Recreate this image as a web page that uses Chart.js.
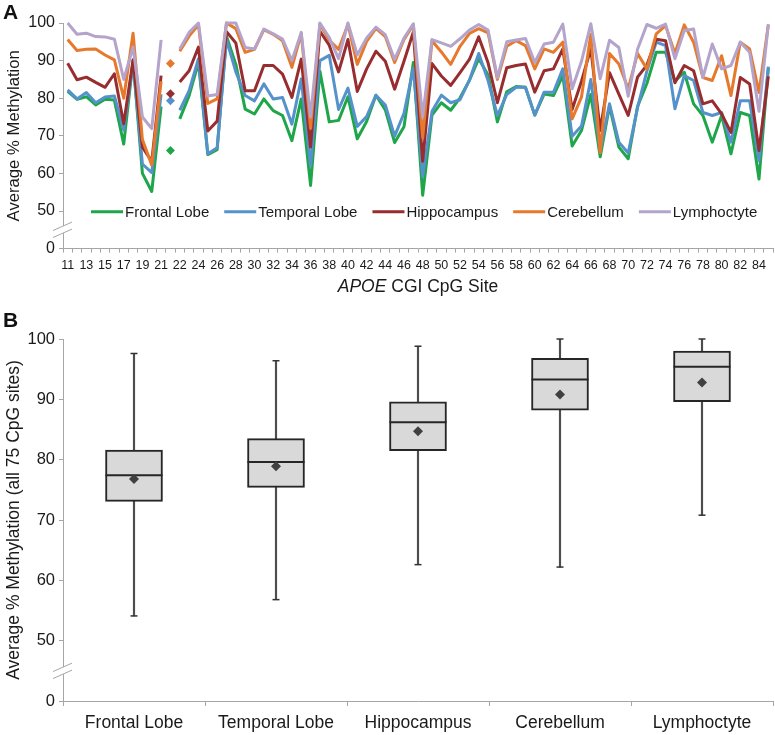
<!DOCTYPE html>
<html>
<head>
<meta charset="utf-8">
<script src="https://cdn.jsdelivr.net/npm/chart.js@4.4.1/dist/chart.umd.min.js"></script>
<style>
  html, body { margin: 0; padding: 0; background: #fff; }
  #wrap { position: relative; width: 775px; height: 735px; }
  canvas { position: absolute; left: 0; }
  #chartA { top: 0; }
  #chartB { top: 300px; }
  .panel { position: absolute; left: 3px; font: bold 21px 'Liberation Sans', Arial, sans-serif; color: #111; line-height: 24px; }
</style>
</head>
<body>
<div id="wrap">
  <canvas id="chartA" width="775" height="300"></canvas>
  <canvas id="chartB" width="775" height="435"></canvas>
  <div class="panel" style="top:0px">A</div>
  <div class="panel" style="top:308px">B</div>
</div>
<script>
// Panel A: CpG sites (the empty column holds the separate diamond markers)
const sites = ['11','12','13','14','15','16','17','18','19','20','21','',
  '22','23','24','25','26','27','28','29','30','31','32','33','34','35','36','37','38','39','40','41',
  '42','43','44','45','46','47','48','49','50','51','52','53','54','55','56','57','58','59','60','61',
  '62','63','64','65','66','67','68','69','70','71','72','73','74','75','76','77','78','79','80','81',
  '82','83','84','85'];
const GAP = 11;

const frontalLobe = [81.8, 79.7, 80.4, 78.2, 79.7, 79.5, 67.8, 90, 60, 55.2, 77.8, 66.1,
  74.5, 80.7, 89.5, 65, 66.3, 96.5, 89, 77.1, 75.8, 79.8,
  76.7, 75.4, 68.7, 79.8, 56.8, 87.2, 73.7, 74.1, 80.4, 69.2,
  73.8, 80.8, 76.9, 68.2, 72.4, 89.5, 54.2, 75.5, 78.8, 76.8,
  80.1, 84.7, 90.5, 86.2, 73.7, 81.7, 83.1, 82.9, 75.5, 81.1,
  80.7, 86, 67.3, 71.4, 81, 64.4, 77.9, 67, 63.9, 77.8,
  83.9, 92.2, 92.2, 84.5, 86.9, 78.5, 75.4, 68.3, 75.4, 65.2,
  76.2, 75.4, 58.5, 88];
const temporalLobe = [82.2, 79.8, 81.5, 78.8, 80.3, 80.6, 71.5, 89.5, 62.5, 60.2, 81, 79.3,
  76.8, 82, 90.5, 65.2, 66.8, 95.6, 87, 80.7, 79.3, 83.8,
  79.8, 80.2, 73.1, 85.1, 62, 90, 91.4, 77, 82.7, 72.5,
  75.1, 80.8, 78.2, 69.9, 76, 88, 59.2, 76.5, 80.8, 78.8,
  79.6, 84.8, 91.9, 84.7, 75.4, 81, 82.9, 82.9, 75.5, 81.6,
  81.6, 87.8, 69.9, 72.6, 85, 66, 78.5, 68.3, 65.4, 77.5,
  87.2, 94.9, 94, 77.2, 86, 84.7, 76.2, 75.4, 76.2, 68.3,
  79.3, 79.3, 63.4, 88.4];
const hippocampus = [89.3, 84.9, 85.6, 84.2, 82.9, 86.5, 73.2, 90.2, 67, 63.2, 86, 81.2,
  84.3, 87.3, 93.6, 71.3, 73.9, 97.7, 94.7, 82, 82, 88.7,
  88.7, 86.4, 80.2, 90.4, 67, 97.8, 94.1, 87, 95.6, 81.8,
  87.8, 92.5, 89.8, 82.4, 89.8, 97.6, 63.2, 89.2, 85.9, 83.4,
  86.8, 90.3, 96.3, 89.4, 78.8, 88.1, 88.7, 89.1, 81.6, 87.3,
  87.8, 93.1, 77, 84.5, 93.2, 71.4, 86.8, 81.1, 75.4, 85.6,
  88.8, 95.7, 95.3, 84.1, 88.7, 87.3, 78.5, 79.3, 75.8, 70.9,
  85.5, 83.8, 66.1, 85.8];
const cerebellum = [95.6, 92.7, 93, 93.1, 91.5, 90.2, 80, 97.3, 69, 62.2, 84.5, 89.2,
  92.5, 96.5, 99.5, 78.6, 79.8, 100, 98.5, 92.2, 93, 98.2,
  97, 95.3, 88.2, 97.2, 72, 99.7, 95.4, 93, 99.6, 89,
  95.1, 98.6, 96.4, 89.5, 95.6, 99.5, 69.5, 95.3, 92.3, 89,
  93.8, 97.2, 98.5, 97.4, 85, 93.8, 95.3, 94, 87.8, 93.1,
  92.2, 94.9, 74.5, 80.3, 97, 65.5, 91.9, 89.1, 82.5, 91.9,
  87.8, 97.1, 99.3, 91.9, 99.5, 94.9, 85.5, 84.7, 91.3, 80.7,
  94.9, 93.1, 81.5, 99.5];
const lymphocyte = [100, 97, 97.3, 96.4, 96.3, 95.7, 85, 93.6, 75, 71.9, 95.5, null,
  93.1, 97.5, 100, 80.6, 81, 100, 100, 93.5, 93.1, 98.4,
  97.1, 95.7, 90, 97.5, 75, 100, 96.1, 90.5, 100, 91.5,
  96, 98.9, 96.9, 90.3, 96, 99.8, 75, 95.6, 94.7, 93.8,
  95.8, 98.1, 99.6, 98.1, 85.4, 95, 95.5, 95.9, 89.5, 94.4,
  94.9, 99.7, 82.5, 89.8, 99.8, 85.2, 95.4, 93.5, 80.5, 93,
  99.6, 98.6, 99.7, 90.5, 98, 98.4, 85.5, 94.4, 87.8, 88.7,
  94.9, 92.2, 76.5, 99.7];

// Panel B: box plot summaries per tissue
const tissues = ['Frontal Lobe', 'Temporal Lobe', 'Hippocampus', 'Cerebellum', 'Lymphoctyte'];
const minimums = [54.1, 56.8, 62.6, 62.2, 70.8];
const q1s = [73.1, 75.4, 81.5, 88.2, 89.6];
const medians = [77.4, 79.6, 86.2, 93.3, 95.4];
const means = [76.8, 78.9, 84.7, 90.8, 92.8];
const q3s = [81.6, 83.5, 89.6, 96.8, 98.0];
const maximums = [97.6, 96.4, 98.8, 100, 100];

// y tick values (40 is shown as "0" below the axis break)
const yTicks = [40, 50, 60, 70, 80, 90, 100];

const FONT = "'Liberation Sans', Arial, sans-serif";
const AXIS = '#a6a6a6';
const TEXT = '#1a1a1a';

// Two slashes across the y axis between 0 and 50
const axisBreak = {
  id: 'axisBreak',
  afterDraw(chart) {
    const { ctx, chartArea, scales } = chart;
    const x = chartArea.left;
    const y = scales.y.getPixelForValue(45);
    ctx.save();
    ctx.fillStyle = '#fff';
    ctx.beginPath();
    ctx.moveTo(x - 4, y - 3.5 + 1.7);
    ctx.lineTo(x + 4, y - 3.5 - 1.7);
    ctx.lineTo(x + 4, y + 3.5 - 1.7);
    ctx.lineTo(x - 4, y + 3.5 + 1.7);
    ctx.closePath();
    ctx.fill();
    ctx.strokeStyle = AXIS;
    ctx.lineWidth = 1;
    [-3.5, 3.5].forEach(d => {
      ctx.beginPath();
      ctx.moveTo(x - 10, y + d + 4.2);
      ctx.lineTo(x + 9, y + d - 4.2);
      ctx.stroke();
    });
    ctx.restore();
  }
};

// Legend drawn inside the plot area of panel A
const insideLegend = {
  id: 'insideLegend',
  afterDatasetsDraw(chart) {
    const { ctx, chartArea, scales } = chart;
    const y = scales.y.getPixelForValue(49.8);
    ctx.save();
    ctx.font = '15px ' + FONT;
    ctx.textBaseline = 'middle';
    let x = chartArea.left + 28;
    chart.data.datasets.forEach(ds => {
      ctx.strokeStyle = ds.borderColor;
      ctx.lineWidth = 3;
      ctx.beginPath();
      ctx.moveTo(x, y);
      ctx.lineTo(x + 32, y);
      ctx.stroke();
      x += 34;
      ctx.fillStyle = TEXT;
      ctx.fillText(ds.label, x, y + 1);
      x += ctx.measureText(ds.label).width + 15;
    });
    ctx.restore();
  }
};

// x title of panel A with the gene name in italics
const xTitleA = {
  id: 'xTitleA',
  afterDraw(chart) {
    const { ctx, chartArea } = chart;
    const italic = 'italic 17.5px ' + FONT;
    const normal = '17.5px ' + FONT;
    ctx.save();
    ctx.font = italic;
    const w1 = ctx.measureText('APOE').width;
    ctx.font = normal;
    const w2 = ctx.measureText(' CGI CpG Site').width;
    let x = (chartArea.left + chartArea.right) / 2 - (w1 + w2) / 2;
    const y = chart.height - 13;
    ctx.fillStyle = TEXT;
    ctx.textBaseline = 'middle';
    ctx.font = italic;
    ctx.fillText('APOE', x, y);
    ctx.font = normal;
    ctx.fillText(' CGI CpG Site', x + w1, y);
    ctx.restore();
  }
};

const yAxis = (size, title, titleSize) => ({
  min: 40,
  max: 100,
  afterBuildTicks: s => { s.ticks = yTicks.map(v => ({ value: v })); },
  afterFit: s => { s.width = 63; },
  grid: { drawOnChartArea: false, tickLength: 4, color: AXIS },
  border: { color: AXIS },
  ticks: { padding: 4, color: TEXT, font: { family: FONT, size }, callback: v => v === 40 ? '0' : v },
  title: { display: true, text: title, color: TEXT, font: { family: FONT, size: titleSize }, padding: { top: 4, bottom: 0 } }
});

// Panel A: one line per tissue
const seriesA = [
  ['Frontal Lobe', frontalLobe, '#1fa64b'],
  ['Temporal Lobe', temporalLobe, '#5592cc'],
  ['Hippocampus', hippocampus, '#982d2f'],
  ['Cerebellum', cerebellum, '#e6792b'],
  ['Lymphoctyte', lymphocyte, '#b4a3cb']
];

new Chart(document.getElementById('chartA'), {
  type: 'line',
  data: {
    labels: sites,
    datasets: seriesA.map(([label, data, color], i) => ({
      label,
      data,
      order: seriesA.length - i,
      borderColor: color,
      backgroundColor: color,
      borderWidth: 3,
      borderJoinStyle: 'round',
      tension: 0,
      spanGaps: false,
      clip: false,
      pointStyle: 'rectRot',
      pointRadius: ctx => ctx.dataIndex === GAP ? 4.5 : 0,
      pointHoverRadius: 0,
      pointBorderWidth: 0,
      pointBackgroundColor: color,
      segment: {
        borderColor: ctx => (ctx.p0DataIndex === GAP || ctx.p1DataIndex === GAP) ? 'rgba(0,0,0,0)' : undefined
      }
    }))
  },
  options: {
    responsive: false,
    animation: false,
    events: [],
    layout: { autoPadding: false, padding: { top: 23, right: 2, left: 0, bottom: 0 } },
    plugins: { legend: { display: false }, tooltip: { enabled: false } },
    scales: {
      x: {
        type: 'category',
        offset: true,
        afterFit: s => { s.height = 300 - 248.6; },
        grid: { offset: true, drawOnChartArea: false, tickLength: 4, color: AXIS },
        border: { color: AXIS },
        ticks: {
          autoSkip: false, maxRotation: 0, minRotation: 0, padding: 5, color: TEXT,
          font: { family: FONT, size: 12.5 },
          callback(v, i) { return i % 2 === 0 ? this.getLabelForValue(v) : ''; }
        }
      },
      y: yAxis(16, 'Average % Methylation', 16.7)
    }
  },
  plugins: [insideLegend, axisBreak, xTitleA]
});

// Panel B: box plots built from floating bars and point markers
new Chart(document.getElementById('chartB'), {
  type: 'bar',
  data: {
    labels: tissues,
    datasets: [
      { label: 'whisker', data: tissues.map((t, i) => [minimums[i], maximums[i]]), order: 6,
        backgroundColor: '#4d4d4d', barThickness: 1.5, grouped: false },
      { label: 'box', data: tissues.map((t, i) => [q1s[i], q3s[i]]), order: 5,
        backgroundColor: '#d9d9d9', borderColor: '#262626', borderWidth: 2, borderSkipped: false,
        barThickness: 57, grouped: false },
      { type: 'line', label: 'max', data: maximums, order: 4, showLine: false, clip: false,
        pointStyle: 'line', pointRadius: 3.5, pointBorderWidth: 1.5, borderColor: '#333', pointBorderColor: '#333' },
      { type: 'line', label: 'min', data: minimums, order: 3, showLine: false, clip: false,
        pointStyle: 'line', pointRadius: 3.5, pointBorderWidth: 1.5, borderColor: '#333', pointBorderColor: '#333' },
      { type: 'line', label: 'median', data: medians, order: 2, showLine: false, clip: false,
        pointStyle: 'line', pointRadius: 28.5, pointBorderWidth: 2, borderColor: '#262626', pointBorderColor: '#262626' },
      { type: 'line', label: 'mean', data: means, order: 1, showLine: false, clip: false,
        pointStyle: 'rectRot', pointRadius: 5, pointBorderWidth: 0, backgroundColor: '#404040', pointBackgroundColor: '#404040' }
    ]
  },
  options: {
    responsive: false,
    animation: false,
    events: [],
    layout: { autoPadding: false, padding: { top: 39, right: 2, left: 0, bottom: 0 } },
    plugins: { legend: { display: false }, tooltip: { enabled: false } },
    scales: {
      x: {
        offset: true,
        afterFit: s => { s.height = 435 - 401; },
        grid: { offset: true, drawOnChartArea: false, tickLength: 5, color: AXIS },
        border: { color: AXIS },
        ticks: { maxRotation: 0, padding: 7, color: TEXT, font: { family: FONT, size: 17.5 } }
      },
      y: yAxis(16.5, 'Average % Methylation (all 75 CpG sites)', 17.5)
    }
  },
  plugins: [axisBreak]
});
</script>
</body>
</html>
